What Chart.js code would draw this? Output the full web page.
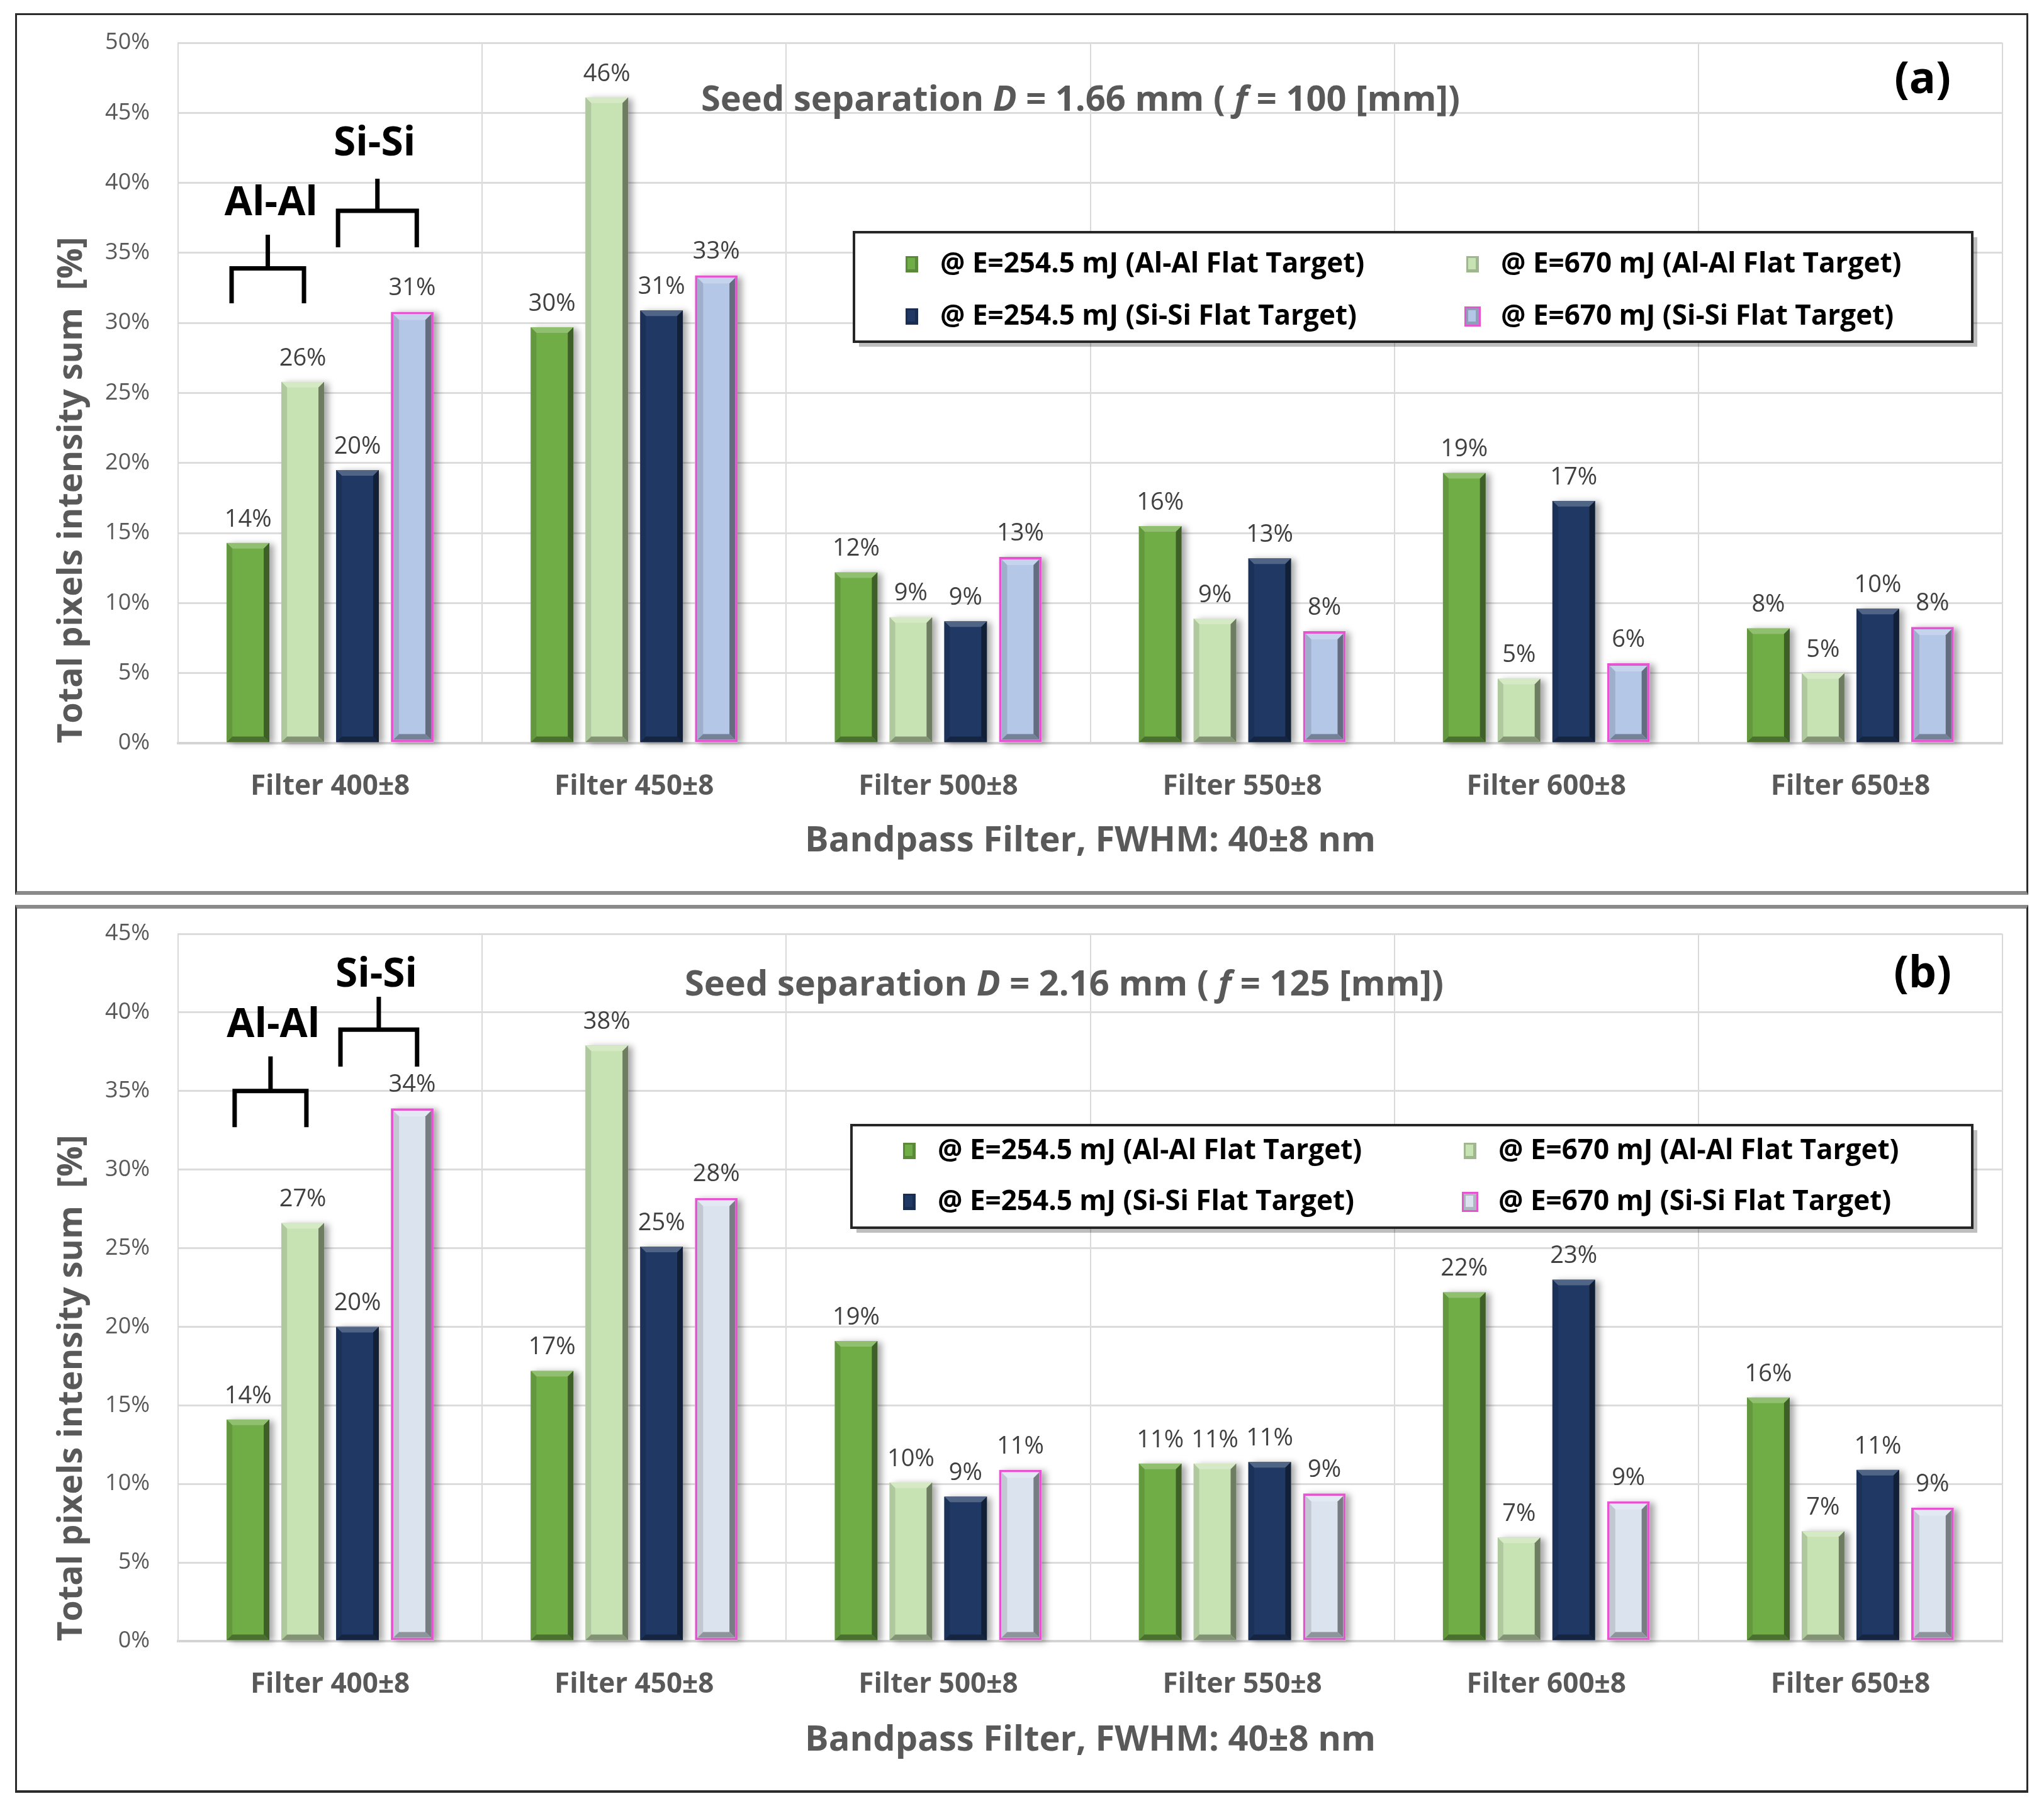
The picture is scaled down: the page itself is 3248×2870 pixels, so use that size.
<!DOCTYPE html>
<html>
<head>
<meta charset="utf-8">
<script src="https://cdn.jsdelivr.net/npm/chart.js@4.4.0/dist/chart.umd.min.js"></script>
<style>
    body { margin: 0; background: #fff; width: 3248px; height: 2870px; position: relative; overflow: hidden; }
    canvas { position: absolute; }
    .frame { position: absolute; box-sizing: border-box; border: 3px solid #2b2b2b; pointer-events: none; }
    #frameA { left: 24px; top: 21px; width: 3199px; height: 1401px; border-bottom: 6px solid #8a8a8a; }
    #frameB { left: 24px; top: 1438px; width: 3199px; height: 1411px; border-top: 6px solid #8a8a8a; border-bottom: 4px solid #2b2b2b; }
</style>
</head>
<body>
<canvas id="chartA" width="3194" height="1393" style="left:27px;top:24px;width:3194px;height:1393px"></canvas>
<canvas id="chartB" width="3194" height="1400" style="left:27px;top:1444px;width:3194px;height:1400px"></canvas>
<div class="frame" id="frameA"></div>
<div class="frame" id="frameB"></div>
<script>
const categories = ["Filter 400±8", "Filter 450±8", "Filter 500±8", "Filter 550±8", "Filter 600±8", "Filter 650±8"];
const seriesLabels = [
    "@ E=254.5 mJ (Al-Al Flat Target)",
    "@ E=670 mJ (Al-Al Flat Target)",
    "@ E=254.5 mJ (Si-Si Flat Target)",
    "@ E=670 mJ (Si-Si Flat Target)"
];

// (a) f = 100 mm
const alLowA  = [14.3, 29.7, 12.2, 15.5, 19.3, 8.2];
const alHighA = [25.8, 46.1, 9.0, 8.9, 4.6, 5.0];
const siLowA  = [19.5, 30.9, 8.7, 13.2, 17.3, 9.6];
const siHighA = [30.8, 33.4, 13.3, 8.0, 5.7, 8.3];

// (b) f = 125 mm
const alLowB  = [14.1, 17.2, 19.1, 11.3, 22.2, 15.5];
const alHighB = [26.6, 37.9, 10.1, 11.3, 6.6, 7.0];
const siLowB  = [20.0, 25.1, 9.2, 11.4, 23.0, 10.9];
const siHighB = [33.9, 28.2, 10.9, 9.4, 8.9, 8.5];

const yMaxA = 50;
const yMaxB = 45;
const yStep = 5;

const FONT = "'Open Sans', 'Noto Sans', 'DejaVu Sans', sans-serif";
const GRAY = "#595959";

function shade(hex, f) {
    const n = parseInt(hex.slice(1), 16);
    const c = [n >> 16, (n >> 8) & 255, n & 255];
    const t = f < 0 ? 0 : 255, p = Math.abs(f);
    const r = c.map(v => Math.round((t - v) * p + v));
    return "rgb(" + r.join(",") + ")";
}

const decorPlugin = {
    id: "decor",
    beforeDatasetsDraw(chart) {
        const ctx = chart.ctx;
        ctx.save();
        ctx.shadowColor = "rgba(0,0,0,0.35)";
        ctx.shadowBlur = 10;
        ctx.shadowOffsetX = 7;
        ctx.shadowOffsetY = 2;
        ctx.fillStyle = "#fff";
        chart.data.datasets.forEach((ds, i) => {
            chart.getDatasetMeta(i).data.forEach(bar => {
                ctx.fillRect(bar.x - bar.width / 2, bar.y, bar.width, bar.base - bar.y);
            });
        });
        ctx.restore();
    },
    afterDatasetsDraw(chart) {
        const ctx = chart.ctx;
        ctx.save();
        chart.data.datasets.forEach((ds, i) => {
            const inset = ds.borderWidth > 2 ? ds.borderWidth : 0;
            chart.getDatasetMeta(i).data.forEach((bar, j) => {
                let L = bar.x - bar.width / 2 + inset, R = bar.x + bar.width / 2 - inset;
                let T = bar.y + inset, B = bar.base - inset;
                const b = Math.min(9, (B - T) / 2);
                const col = ds.faceColor;
                const poly = (pts, fill) => {
                    ctx.beginPath();
                    ctx.moveTo(pts[0], pts[1]);
                    for (let k = 2; k < pts.length; k += 2) ctx.lineTo(pts[k], pts[k + 1]);
                    ctx.closePath();
                    ctx.fillStyle = fill;
                    ctx.fill();
                };
                poly([L, T, R, T, R - b, T + b, L + b, T + b], shade(col, 0.22));
                poly([L, T, L + b, T + b, L + b, B - b, L, B], shade(col, -0.12));
                poly([R, T, R, B, R - b, B - b, R - b, T + b], shade(col, -0.45));
                poly([L, B, L + b, B - b, R - b, B - b, R, B], shade(col, -0.35));

                // value label
                ctx.fillStyle = "#404040";
                ctx.font = "38px " + FONT;
                ctx.textAlign = "center";
                ctx.textBaseline = "bottom";
                ctx.fillText(Math.round(ds.data[j]) + "%", bar.x, bar.y - 18);
            });
        });
        ctx.restore();
    },
    afterDraw(chart, args, opts) {
        const ctx = chart.ctx;
        const area = chart.chartArea;
        const xs = chart.scales.x, ys = chart.scales.y;
        const catW = (area.right - area.left) / categories.length;
        ctx.save();

        // title with italic symbols
        const parts = opts.title;
        let total = 0;
        parts.forEach(p => {
            ctx.font = (p.italic ? "italic " : "") + "bold 56px " + FONT;
            p.w = ctx.measureText(p.text).width;
            total += p.w;
        });
        let tx = opts.titleX - total / 2;
        ctx.fillStyle = GRAY;
        ctx.textBaseline = "middle";
        ctx.textAlign = "left";
        parts.forEach(p => {
            ctx.font = (p.italic ? "italic " : "") + "bold 56px " + FONT;
            ctx.fillText(p.text, tx, area.top + opts.titleDy);
            tx += p.w;
        });

        // panel tag
        ctx.fillStyle = "#000";
        ctx.font = "bold 70px " + FONT;
        ctx.textAlign = "center";
        ctx.fillText(opts.tag, opts.tagX, area.top + opts.tagDy);

        // group brackets
        const x0 = xs.getPixelForValue(0);
        ctx.strokeStyle = "#000";
        ctx.lineWidth = 7;
        ctx.lineCap = "butt";
        opts.brackets.forEach(br => {
            const l = x0 + br.from * catW, r = x0 + br.to * catW, m = (l + r) / 2;
            const yBar = ys.getPixelForValue(br.bar), yTop = ys.getPixelForValue(br.top), yLeg = ys.getPixelForValue(br.leg);
            ctx.beginPath();
            ctx.moveTo(l, yLeg); ctx.lineTo(l, yBar); ctx.lineTo(r, yBar); ctx.lineTo(r, yLeg);
            ctx.moveTo(m, yBar); ctx.lineTo(m, yTop);
            ctx.stroke();
            ctx.font = "bold 64px " + FONT;
            ctx.fillStyle = "#000";
            ctx.textAlign = "center";
            ctx.textBaseline = "middle";
            ctx.fillText(br.text, x0 + br.textAt * catW, ys.getPixelForValue(br.textY));
        });

        // legend box
        const lg = opts.legend;
        const bx = area.left + lg.dx, by = area.top + lg.dy;
        ctx.fillStyle = "rgba(0,0,0,0.25)";
        ctx.fillRect(bx + 8, by + 8, lg.w, lg.h);
        ctx.fillStyle = "#fff";
        ctx.fillRect(bx, by, lg.w, lg.h);
        ctx.strokeStyle = "#262626";
        ctx.lineWidth = 4;
        ctx.strokeRect(bx, by, lg.w, lg.h);
        chart.data.datasets.forEach((ds, i) => {
            const col = i % 2, row = Math.floor(i / 2);
            const mx = bx + lg.colX[col], my = by + lg.rowY[row];
            const mw = 20, mh = 26;
            if (ds.borderWidth > 2) {
                ctx.fillStyle = ds.borderColor;
                ctx.fillRect(mx - 3, my - mh / 2 - 3, mw + 6, mh + 6);
            }
            ctx.fillStyle = shade(ds.faceColor, -0.2);
            ctx.fillRect(mx, my - mh / 2, mw, mh);
            ctx.fillStyle = ds.faceColor;
            ctx.fillRect(mx + 3, my - mh / 2 + 3, mw - 8, mh - 8);
            ctx.fillStyle = "#000";
            ctx.font = "bold 44px " + FONT;
            ctx.textAlign = "left";
            ctx.textBaseline = "middle";
            ctx.fillText(ds.label, mx + lg.textGap, my);
        });
        ctx.restore();
    }
};

function makeDatasets(values, lightBlue) {
    const faces = ["#70ad47", "#c8e3b3", "#1f3864", lightBlue];
    const borders = ["#4d7f2f", "#98b487", "#17294a", "#e455cf"];
    return values.map((v, i) => ({
        label: seriesLabels[i],
        data: v,
        backgroundColor: faces[i],
        faceColor: faces[i],
        borderColor: borders[i],
        borderWidth: i === 3 ? 4 : 2,
        borderSkipped: false,
        categoryPercentage: 0.72,
        barPercentage: 0.78
    }));
}

function makeChart(id, values, lightBlue, yMax, topPad, titleBottomPad, decor) {
    return new Chart(document.getElementById(id), {
        type: "bar",
        data: { labels: categories, datasets: makeDatasets(values, lightBlue) },
        plugins: [decorPlugin],
        options: {
            responsive: false,
            animation: false,
            devicePixelRatio: 1,
            layout: { padding: { left: 0, right: 39, top: topPad, bottom: 0 } },
            scales: {
                x: {
                    afterFit: scale => { scale.height = 236; },
                    grid: { color: "#d9d9d9", lineWidth: 2, drawTicks: false, offset: true },
                    border: { color: "#d4d4d4", width: 4 },
                    ticks: { color: GRAY, padding: 43, font: { family: FONT, size: 44, weight: "bold" } },
                    title: {
                        display: true,
                        text: "Bandpass Filter, FWHM: 40±8 nm",
                        color: GRAY,
                        font: { family: FONT, size: 56, weight: "bold" },
                        padding: { top: 0, bottom: titleBottomPad }
                    }
                },
                y: {
                    min: 0,
                    max: yMax,
                    afterFit: scale => {
                        scale.width = 256;
                        // keep the tick gap from pushing the plot area down
                        scale.paddingTop = 20;
                        scale.paddingBottom = 20;
                    },
                    grid: { color: "#dcdcdc", lineWidth: 3, drawTicks: false },
                    border: { color: "#d9d9d9", width: 2 },
                    ticks: {
                        stepSize: yStep,
                        color: GRAY,
                        padding: 45,
                        font: { family: FONT, size: 36 },
                        callback: v => v + "%"
                    },
                    title: {
                        display: true,
                        align: "start",
                        text: "Total pixels intensity sum  [%]",
                        color: GRAY,
                        font: { family: FONT, size: 54, weight: "bold" },
                        padding: { top: 55, bottom: 0 }
                    }
                }
            },
            plugins: {
                legend: { display: false },
                tooltip: { enabled: false },
                decor: decor
            }
        }
    });
}

makeChart("chartA", [alLowA, alHighA, siLowA, siHighA], "#b4c7e7", yMaxA, 44, 46, {
    title: [
        { text: "Seed separation " }, { text: "D", italic: true },
        { text: " = 1.66 mm ( " }, { text: "f", italic: true }, { text: " = 100 [mm])" }
    ],
    titleX: 1690, titleDy: 92,
    tag: "(a)", tagX: 3028, tagDy: 60,
    brackets: [
        { text: "Al-Al", textAt: -0.194, textY: 38.5, from: -0.324, to: -0.086, bar: 33.9, top: 36.3, leg: 31.4 },
        { text: "Si-Si", textAt: 0.146, textY: 42.8, from: 0.026, to: 0.285, bar: 38.0, top: 40.3, leg: 35.4 }
    ],
    legend: { dx: 1074, dy: 301, w: 1777, h: 174, colX: [82, 973], rowY: [51, 134], textGap: 55 }
});

makeChart("chartB", [alLowB, alHighB, siLowB, siHighB], "#dbe3ef", yMaxB, 40, 44, {
    title: [
        { text: "Seed separation " }, { text: "D", italic: true },
        { text: " = 2.16 mm ( " }, { text: "f", italic: true }, { text: " = 125 [mm])" }
    ],
    titleX: 1664, titleDy: 82,
    tag: "(b)", tagX: 3028, tagDy: 65,
    brackets: [
        { text: "Al-Al", textAt: -0.187, textY: 39.15, from: -0.314, to: -0.078, bar: 35.0, top: 37.2, leg: 32.7 },
        { text: "Si-Si", textAt: 0.152, textY: 42.35, from: 0.034, to: 0.286, bar: 38.9, top: 41.0, leg: 36.55 }
    ],
    legend: { dx: 1070, dy: 304, w: 1781, h: 163, colX: [82, 973], rowY: [41, 122], textGap: 55 }
});
</script>
</body>
</html>
